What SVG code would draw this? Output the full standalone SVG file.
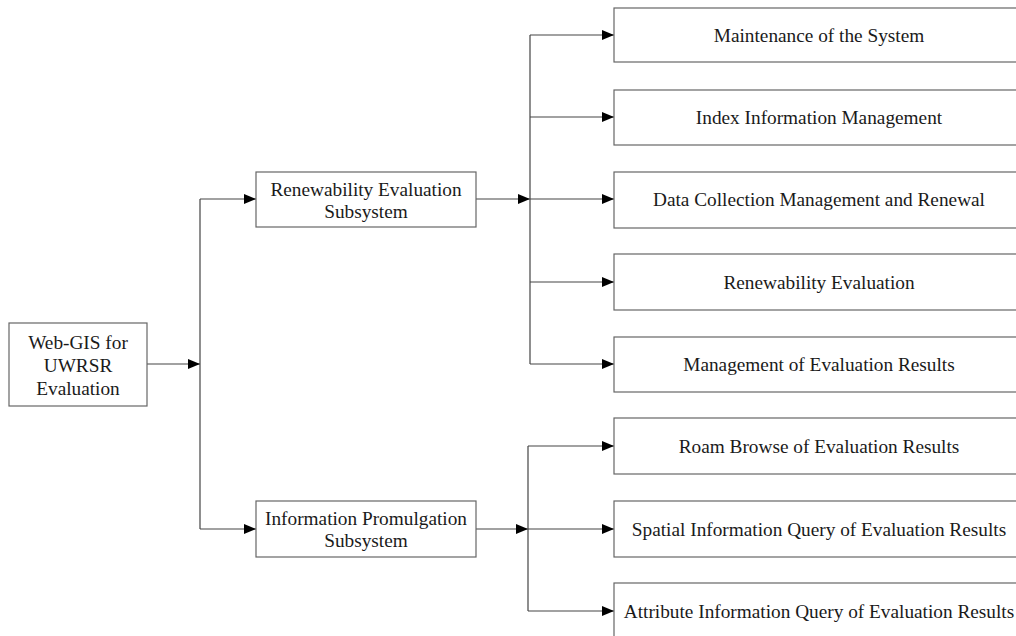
<svg xmlns="http://www.w3.org/2000/svg" width="1016" height="636" viewBox="0 0 1016 636">
<defs>
<marker id="arr" markerWidth="12" markerHeight="10" refX="12" refY="5" orient="auto" markerUnits="userSpaceOnUse">
<path d="M0,0 L12,5 L0,10 Z" fill="#000"/>
</marker>
<style>
.box{fill:#fff;stroke:#666;stroke-width:1.2}
.ln{fill:none;stroke:#444;stroke-width:1.2}
.t{font-family:"Liberation Serif","Times New Roman",serif;font-size:19.3px;fill:#1a1a1a;text-anchor:middle;dominant-baseline:central}
</style>
</defs>
<rect width="1016" height="636" fill="#fff"/>
<g id="connectors">
<path class="ln" d="M147,364 H200" marker-end="url(#arr)"/>
<path class="ln" d="M200,199 V529"/>
<path class="ln" d="M200,199 H256" marker-end="url(#arr)"/>
<path class="ln" d="M200,529 H256" marker-end="url(#arr)"/>
<path class="ln" d="M476,199 H530" marker-end="url(#arr)"/>
<path class="ln" d="M530,35 V364"/>
<path class="ln" d="M530,35 H614" marker-end="url(#arr)"/>
<path class="ln" d="M530,117 H614" marker-end="url(#arr)"/>
<path class="ln" d="M530,199 H614" marker-end="url(#arr)"/>
<path class="ln" d="M530,282 H614" marker-end="url(#arr)"/>
<path class="ln" d="M530,364 H614" marker-end="url(#arr)"/>
<path class="ln" d="M476,529 H528" marker-end="url(#arr)"/>
<path class="ln" d="M528,446 V611"/>
<path class="ln" d="M528,446 H614" marker-end="url(#arr)"/>
<path class="ln" d="M528,529 H614" marker-end="url(#arr)"/>
<path class="ln" d="M528,611 H614" marker-end="url(#arr)"/>
</g>
<g id="root">
<rect class="box" x="9" y="323" width="138" height="83"/>
<text class="t" x="78" y="342">Web-GIS for</text>
<text class="t" x="78" y="365">UWRSR</text>
<text class="t" x="78" y="388">Evaluation</text>
</g>
<g id="renewability-subsystem">
<rect class="box" x="256" y="172" width="220" height="55"/>
<text class="t" x="366" y="189">Renewability Evaluation</text>
<text class="t" x="366" y="211">Subsystem</text>
</g>
<g id="information-subsystem">
<rect class="box" x="256" y="501" width="220" height="56"/>
<text class="t" x="366" y="518">Information Promulgation</text>
<text class="t" x="366" y="540">Subsystem</text>
</g>
<g id="n1"><rect class="box" x="614" y="8" width="412" height="54"/><text class="t" x="819" y="35">Maintenance of the System</text></g>
<g id="n2"><rect class="box" x="614" y="90" width="412" height="55"/><text class="t" x="819" y="117">Index Information Management</text></g>
<g id="n3"><rect class="box" x="614" y="172" width="412" height="56"/><text class="t" x="819" y="199">Data Collection Management and Renewal</text></g>
<g id="n4"><rect class="box" x="614" y="254" width="412" height="56"/><text class="t" x="819" y="282">Renewability Evaluation</text></g>
<g id="n5"><rect class="box" x="614" y="337" width="412" height="55"/><text class="t" x="819" y="364">Management of Evaluation Results</text></g>
<g id="n6"><rect class="box" x="614" y="418" width="412" height="56"/><text class="t" x="819" y="446">Roam Browse of Evaluation Results</text></g>
<g id="n7"><rect class="box" x="614" y="501" width="412" height="56"/><text class="t" x="819" y="529">Spatial Information Query of Evaluation Results</text></g>
<g id="n8"><rect class="box" x="614" y="583" width="412" height="70"/><text class="t" x="819" y="611">Attribute Information Query of Evaluation Results</text></g>
</svg>
